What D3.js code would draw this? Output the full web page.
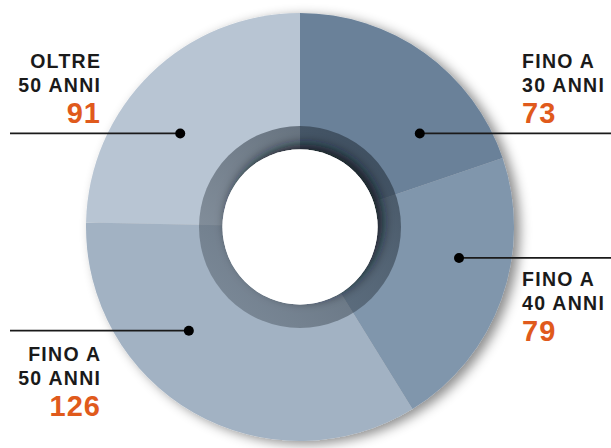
<!DOCTYPE html>
<html>
<head>
<meta charset="utf-8">
<script src="https://cdn.jsdelivr.net/npm/d3@7"></script>
<style>
  html, body { margin: 0; padding: 0; background: #fff; }
  svg { display: block; }
</style>
</head>
<body>
<div id="chart"></div>
<script>
const W = 611
const H = 448

// data, in clockwise order from 12 o'clock
const line1 = ['FINO A', 'FINO A', 'FINO A', 'OLTRE']
const line2 = ['30 ANNI', '40 ANNI', '50 ANNI', '50 ANNI']
const values = [73, 79, 126, 91]
const colors = ['#6a8199', '#8096ac', '#a2b2c3', '#b8c5d3']

// annotation layout: dot polar position, text side, top of text block
const notes = [
  { ang: 52, rad: 152, side: 'right', textY: 54 },
  { ang: 101, rad: 162, side: 'right', textY: 272 },
  { ang: 227, rad: 152, side: 'left', textY: 347 },
  { ang: 308, rad: 152, side: 'left', textY: 54 }
]

const cx = 300
const cy = 227
const outerR = 214
const ringR = 101
const holeR = 77.5

const svg = d3.select('#chart')
  .append('svg')
  .attr('width', W)
  .attr('height', H)

const defs = svg.append('defs')

const shadow = defs.append('filter')
  .attr('id', 'shadow')
  .attr('x', '-20%').attr('y', '-20%')
  .attr('width', '140%').attr('height', '140%')
shadow.append('feDropShadow')
  .attr('dx', 6).attr('dy', 3)
  .attr('stdDeviation', 6)
  .attr('flood-color', '#000')
  .attr('flood-opacity', 0.45)

const holeShadow = defs.append('filter')
  .attr('id', 'holeShadow')
  .attr('x', '-40%').attr('y', '-40%')
  .attr('width', '180%').attr('height', '180%')
holeShadow.append('feDropShadow')
  .attr('dx', 5).attr('dy', -5)
  .attr('stdDeviation', 6)
  .attr('flood-color', '#0d1822')
  .attr('flood-opacity', 0.85)

const ringGrad = defs.append('linearGradient')
  .attr('id', 'ringGrad')
  .attr('x1', '0%').attr('y1', '100%')
  .attr('x2', '100%').attr('y2', '0%')
ringGrad.append('stop').attr('offset', '0%').attr('stop-color', '#3c4650').attr('stop-opacity', 0.35)
ringGrad.append('stop').attr('offset', '100%').attr('stop-color', '#1e2a36').attr('stop-opacity', 0.62)

const g = svg.append('g')
  .attr('transform', `translate(${cx},${cy})`)

const pie = d3.pie().sort(null).value(d => d)
const arc = d3.arc().innerRadius(0).outerRadius(outerR)

const donut = g.append('g').attr('filter', 'url(#shadow)')
donut.selectAll('path')
  .data(pie(values))
  .enter()
  .append('path')
  .attr('d', arc)
  .attr('fill', (d, i) => colors[i])

// dark inner ring
g.append('circle')
  .attr('r', ringR)
  .attr('fill', 'url(#ringGrad)')

// white hole
g.append('circle')
  .attr('r', holeR)
  .attr('fill', '#fff')
  .attr('filter', 'url(#holeShadow)')
g.append('circle')
  .attr('r', holeR)
  .attr('fill', '#fff')

// annotations
const font = '"Liberation Sans", Arial, sans-serif'
notes.forEach((n, i) => {
  const a = (n.ang * Math.PI) / 180
  const dx = cx + n.rad * Math.sin(a)
  const dy = cy - n.rad * Math.cos(a)
  const x2 = n.side === 'right' ? W : 10

  svg.append('line')
    .attr('x1', dx).attr('y1', dy)
    .attr('x2', x2).attr('y2', dy)
    .attr('stroke', '#1a1a1a')
    .attr('stroke-width', 1.6)
  svg.append('circle')
    .attr('cx', dx).attr('cy', dy)
    .attr('r', 5)
    .attr('fill', '#000')

  const right = n.side === 'right'
  const tx = right ? 522 : 100
  const t = svg.append('g')
    .attr('font-family', font)
    .attr('font-weight', 700)
    .attr('text-anchor', right ? 'start' : 'end')
  // trailing letter-spacing shifts end-anchored text, so compensate
  t.append('text')
    .attr('x', right ? tx : tx + 1.3).attr('y', n.textY + 14)
    .attr('font-size', 19.5)
    .attr('letter-spacing', 1.3)
    .attr('fill', '#1a1a1a')
    .text(line1[i])
  t.append('text')
    .attr('x', right ? tx : tx + 1.3).attr('y', n.textY + 38)
    .attr('font-size', 19.5)
    .attr('letter-spacing', 1.3)
    .attr('fill', '#1a1a1a')
    .text(line2[i])
  t.append('text')
    .attr('x', right ? tx : tx + 1).attr('y', n.textY + 69)
    .attr('font-size', 29)
    .attr('letter-spacing', 1)
    .attr('fill', '#e05a1c')
    .text(values[i])
})
</script>
</body>
</html>
